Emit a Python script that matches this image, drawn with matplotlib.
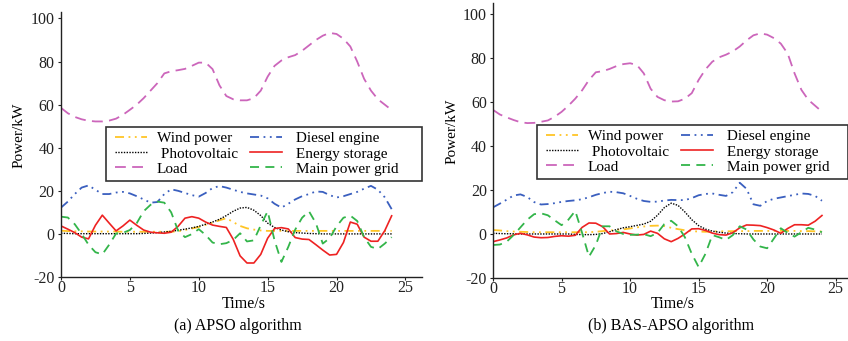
import numpy as np
import matplotlib
matplotlib.use('Agg')
import matplotlib.pyplot as plt
from matplotlib.patches import Rectangle

#########################
######### DATA (every 0.5 s from 0 to 24 s)
#########################

t = np.arange(0, 24.5, 0.5)

# (a) APSO
wind_a = [1.5, 1.3, 1.2, 1.2, 1.1, 1.1, 1.1, 1.1, 1.1, 1.0,
          1.0, 1.0, 1.0, 1.0, 1.0, 1.0, 1.0, 1.2, 1.8, 2.5,
          3.2, 4.2, 5.2, 6.3, 7.3, 5.5, 3.7, 2.6, 2.0, 1.6,
          1.4, 1.4, 1.4, 1.4, 1.4, 1.4, 1.4, 1.4, 1.4, 1.4,
          1.4, 1.4, 1.4, 1.4, 1.4, 1.4, 1.4, 1.4, 1.4]
pv_a = [0.3, 0.2, 0.1, 0.1, 0.1, 0.1, 0.1, 0.1, 0.1, 0.1,
        0.1, 0.1, 0.2, 0.4, 0.6, 0.9, 1.2, 1.7, 2.2, 2.8,
        3.5, 4.5, 5.5, 6.8, 8.5, 10.5, 12.0, 12.3, 11.0, 8.5,
        5.0, 3.0, 1.8, 1.0, 0.6, 0.4, 0.2, 0.1, 0.0, 0.0,
        0.0, 0.0, 0.0, 0.0, 0.0, 0.0, 0.0, 0.0, 0.0]
load_a = [58.5, 56.0, 54.3, 53.2, 52.5, 52.2, 52.2, 52.6, 53.5, 55.3,
          57.6, 60.0, 63.0, 66.5, 70.0, 74.5, 75.5, 76.0, 76.6, 78.0,
          79.5, 79.5, 76.5, 69.0, 64.0, 62.5, 62.0, 62.0, 63.0, 66.5,
          73.0, 78.0, 80.5, 82.0, 83.0, 85.0, 87.5, 90.0, 92.0, 93.3,
          92.8, 90.6, 87.0, 80.0, 72.0, 66.5, 62.5, 60.0, 57.5]
diesel_a = [12.2, 15.0, 18.5, 21.5, 22.5, 20.5, 18.5, 18.5, 19.2, 19.5,
            18.8, 17.5, 16.0, 14.5, 14.8, 18.5, 20.7, 20.0, 19.0, 18.0,
            17.3, 19.0, 21.3, 22.2, 21.5, 20.5, 19.5, 18.8, 18.3, 17.8,
            16.5, 14.0, 12.2, 14.0, 16.0, 17.5, 18.5, 19.7, 19.5, 18.0,
            16.9, 17.5, 18.5, 19.5, 21.0, 22.3, 20.5, 17.0, 11.5]
storage_a = [3.7, 2.2, 0.6, -1.5, -2.3, 4.0, 8.7, 5.0, 1.4, 3.7,
             6.4, 4.0, 1.8, 0.8, 0.5, 0.3, 0.8, 3.5, 7.3, 8.0,
             7.3, 5.5, 4.1, 3.5, 3.0, -2.5, -10.2, -13.5, -13.5, -9.5,
             -2.0, 2.5, 2.9, 2.3, -1.7, -2.4, -2.6, -5.0, -7.5, -9.8,
             -9.5, -4.0, 5.5, 4.5, -1.5, -3.4, -3.4, 1.5, 8.4]
grid_a = [8.0, 7.6, 4.5, 0.0, -5.0, -8.5, -9.5, -5.0, 0.2, 0.5,
          1.8, 5.0, 10.5, 13.5, 15.0, 14.5, 10.0, 1.5, -1.5, -0.1,
          2.2, -0.5, -4.0, -4.8, -4.3, -2.8, 0.3, -3.5, -3.0, 4.0,
          10.5, -3.0, -13.0, -6.0, 2.0, 7.5, 10.5, 5.0, -4.5, -2.0,
          3.5, 7.5, 8.5, 6.0, -1.5, -6.0, -7.0, -4.5, -1.5]

# (b) BAS-APSO
wind_b = [1.8, 1.6, 1.3, 1.1, 1.0, 0.9, 0.8, 0.8, 0.8, 0.8,
          0.8, 0.8, 0.8, 0.8, 0.8, 1.0, 1.3, 1.6, 1.8, 2.1,
          2.5, 3.0, 3.4, 3.7, 3.8, 3.6, 2.8, 2.2, 1.7, 1.3,
          1.1, 1.0, 1.1, 1.2, 1.2, 1.3, 1.3, 1.3, 1.4, 1.4,
          1.4, 1.4, 1.4, 1.4, 1.4, 1.3, 1.3, 1.2, 1.1]
pv_b = [0.3, 0.2, 0.1, 0.1, 0.0, 0.0, 0.0, 0.0, 0.0, 0.0,
        0.0, 0.0, -0.2, -0.3, -0.3, -0.2, 0.2, 1.0, 2.0, 2.8,
        3.3, 3.9, 4.5, 5.8, 8.5, 12.0, 14.0, 13.0, 10.0, 6.5,
        3.8, 2.2, 1.3, 0.8, 0.4, 0.2, 0.1, 0.0, 0.0, 0.0,
        0.0, 0.0, 0.0, 0.0, 0.0, 0.0, 0.0, 0.0, 0.0]
load_b = [56.4, 54.3, 53.0, 51.8, 50.8, 50.4, 50.5, 51.0, 51.6, 53.3,
          55.5, 58.3, 61.5, 65.3, 70.0, 73.5, 74.0, 75.0, 76.3, 77.2,
          77.6, 76.8, 73.0, 66.0, 62.3, 60.8, 60.2, 60.3, 61.5, 64.0,
          70.0, 74.8, 78.3, 80.3, 81.5, 83.0, 85.2, 88.0, 90.3, 91.2,
          90.6, 89.0, 86.5, 82.0, 73.0, 65.5, 61.0, 58.3, 55.6]
diesel_b = [12.1, 13.8, 15.6, 17.5, 18.0, 16.8, 14.5, 13.4, 13.6, 14.0,
            14.6, 15.0, 15.3, 15.8, 16.7, 17.8, 18.6, 19.2, 19.0, 18.5,
            17.3, 16.0, 15.0, 14.6, 14.7, 15.2, 15.5, 15.4, 15.4, 16.3,
            17.6, 18.2, 18.4, 17.8, 17.3, 19.0, 23.3, 20.5, 13.5, 12.8,
            15.0, 16.0, 16.6, 17.2, 17.8, 18.4, 18.2, 17.3, 15.1]
storage_b = [-3.5, -2.7, -1.8, -0.4, 0.3, -0.4, -1.4, -1.7, -1.6, -1.1,
             -0.8, -1.0, -0.6, 3.0, 5.0, 4.9, 3.3, 0.0, 0.2, 0.7,
             0.0, -0.5, -0.2, 1.3, 0.3, -2.2, -3.5, -2.0, 0.0, 2.3,
             2.4, 1.6, 0.4, -0.3, -0.5, 0.6, 2.8, 4.1, 4.0, 3.8,
             2.9, 1.8, 0.3, 2.5, 4.2, 4.2, 4.0, 5.8, 8.4]
grid_b = [-5.0, -4.8, -3.5, -0.5, 3.0, 6.5, 9.0, 9.4, 8.5, 6.2,
          4.0, 6.5, 10.5, 0.5, -10.3, -5.0, 3.5, 3.5, 1.2, 0.0,
          -0.4, -0.3, -0.1, -1.0, 0.5, 4.5, 6.0, 3.5, -1.5, -9.0,
          -15.0, -9.0, -0.5, -1.5, -2.7, -0.5, 3.5, 2.0, -2.5, -5.7,
          -6.5, -2.0, 2.6, 0.5, -1.2, 0.8, 2.8, 2.0, 0.8]

labels = ['Wind power', ' Photovoltaic', 'Load',
          ' Diesel engine', ' Energy storage', ' Main power grid']
captions = ['(a) APSO algorithm', '(b) BAS-APSO algorithm']

#########################
######### STYLES
#########################

plt.rcParams['font.family'] = ['Liberation Serif', 'DejaVu Serif']
plt.rcParams['axes.unicode_minus'] = False

styles = [
    dict(color='#FFC526', lw=1.3, dashes=(5, 2.5, 1, 2.5, 1, 2.5)),
    dict(color='black', lw=1.0, dashes=(1, 1)),
    dict(color='#CC66BB', lw=1.3, dashes=(6, 3.5)),
    dict(color='#3A5FBF', lw=1.3, dashes=(5, 2.5, 1, 2.5, 1, 2.5)),
    dict(color='#EE2222', lw=1.2),
    dict(color='#33B54A', lw=1.3, dashes=(5, 3.5)),
]

fig = plt.figure(figsize=(8.48, 3.41), dpi=100)
ax_a = fig.add_axes([0.0719, 0.1877, 0.4257, 0.7771])
ax_b = fig.add_axes([0.5814, 0.1848, 0.4186, 0.8065])

# axes, series, xmax, ymax, legend box (x0, y0, y1), legend anchor, ylabel x, xlabel y
panels = [
    (ax_a, [wind_a, pv_a, load_a, diesel_a, storage_a, grid_a], 26.2, 103,
     (0.1247, 0.362, 0.566), (0.137, 0.566), -0.097, -0.072),
    (ax_b, [wind_b, pv_b, load_b, diesel_b, storage_b, grid_b], 25.9, 105,
     (0.124, 0.360, 0.556), (0.135, 0.556), -0.096, -0.065),
]

for ax, series, xmax, ymax, box, anchor, ylab_x, xlab_y in panels:
    for y, lab, st in zip(series, labels, styles):
        ax.plot(t, y, label=lab, **st)
    ax.set_xlim(0, xmax)
    ax.set_ylim(-20, ymax)
    ax.set_xticks([0, 5, 10, 15, 20, 25])
    ax.set_yticks([-20, 0, 20, 40, 60, 80, 100])
    ax.spines['top'].set_visible(False)
    ax.spines['right'].set_visible(False)
    for s in ['left', 'bottom']:
        ax.spines[s].set_linewidth(1.0)
        ax.spines[s].set_color('#222222')
    ax.tick_params(direction='out', length=2.5, width=0.8, labelsize=11.5,
                   colors='#222222')
    ax.tick_params(axis='x', pad=0)
    ax.tick_params(axis='y', pad=2)
    ax.set_ylabel('Power/kW', fontsize=11)
    ax.yaxis.set_label_coords(ylab_x, 0.535)
    ax.set_xlabel('Time/s', fontsize=11.5)
    ax.xaxis.set_label_coords(0.505, xlab_y)

    # legend frame drawn as a box spanning to the right end of the axis
    rect = Rectangle((box[0], box[1]), 1.0 - box[0], box[2] - box[1],
                     transform=ax.transAxes, facecolor='white',
                     edgecolor='#333333', lw=1.2, zorder=4.5, clip_on=False)
    ax.add_patch(rect)
    leg = ax.legend(ncol=2, loc='upper left', bbox_to_anchor=anchor,
                    borderaxespad=0, fontsize=11, frameon=False,
                    handlelength=2.1, handletextpad=0.65, labelspacing=0.1,
                    borderpad=0.3, columnspacing=0.8)
    leg.set_zorder(5)

fig.text(0.281, 0.043, captions[0], ha='center', va='center', fontsize=11.5)
fig.text(0.791, 0.043, captions[1], ha='center', va='center', fontsize=11.5)

fig.savefig('out.png', dpi=100)
